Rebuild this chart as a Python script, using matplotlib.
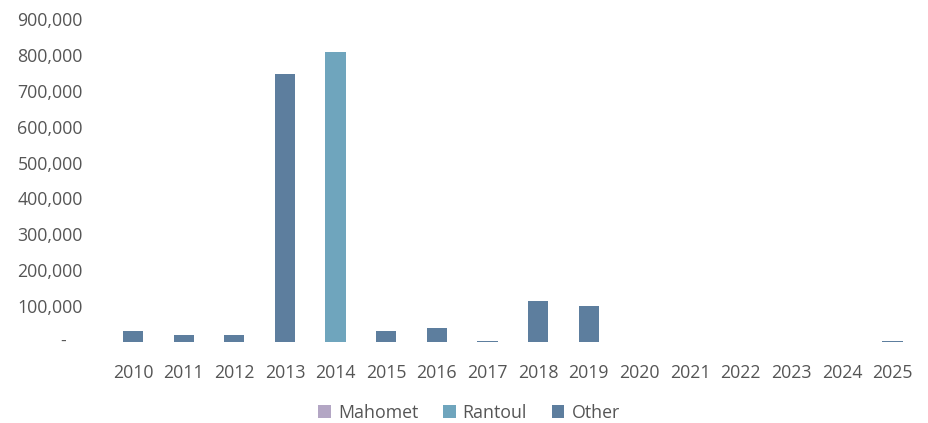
import numpy as np
import matplotlib.pyplot as plt
from matplotlib.ticker import FuncFormatter

years = [str(y) for y in range(2010, 2026)]
mahomet = [0, 0, 0, 0, 0, 0, 0, 0, 0, 0, 0, 0, 0, 0, 0, 0]
rantoul = [0, 0, 0, 0, 808000, 0, 0, 0, 0, 0, 0, 0, 0, 0, 0, 0]
other = [30000, 19000, 18500, 746000, 0, 30000, 39000, 2000, 113000, 99000,
         0, 0, 0, 0, 0, 1500]

colors = {"Mahomet": "#b3a6c4", "Rantoul": "#6fa5bd", "Other": "#5d7e9e"}
text_color = "#555555"

plt.rcParams["font.family"] = ["Open Sans", "DejaVu Sans"]

fig = plt.figure(figsize=(9.29, 4.23), dpi=100)
ax = fig.add_axes([0.116, 0.1915, 0.872, 0.7635])

x = np.arange(len(years))
w = 0.4
m = np.array(mahomet)
r = np.array(rantoul)
o = np.array(other)
ax.bar(x, m, w, color=colors["Mahomet"], label="Mahomet")
ax.bar(x, r, w, bottom=m, color=colors["Rantoul"], label="Rantoul")
ax.bar(x, o, w, bottom=m + r, color=colors["Other"], label="Other")

ax.set_xlim(-0.5, len(years) - 0.5)
ax.set_ylim(0, 900000)
ax.set_yticks(np.arange(0, 900001, 100000))
ax.yaxis.set_major_formatter(
    FuncFormatter(lambda v, p: "" if v == 0 else f"{int(v):,}"))
# zero shown as a dash, accounting style
ax.text(-0.055, 0, "-", transform=ax.get_yaxis_transform(), ha="center",
        va="center", fontsize=12.5, color=text_color)
ax.set_xticks(x)
ax.set_xticklabels(years)

for s in ax.spines.values():
    s.set_visible(False)
ax.tick_params(axis="both", length=0, labelsize=12.8, colors=text_color)
ax.tick_params(axis="y", pad=18)
ax.tick_params(axis="x", pad=16)

leg = fig.legend(loc="lower center", bbox_to_anchor=(0.505, -0.035), ncol=3,
                 frameon=False, fontsize=12.8, handlelength=0.7,
                 handleheight=0.7, handletextpad=0.4, columnspacing=1.4)
for t in leg.get_texts():
    t.set_color(text_color)

fig.savefig("out.png", dpi=100)
